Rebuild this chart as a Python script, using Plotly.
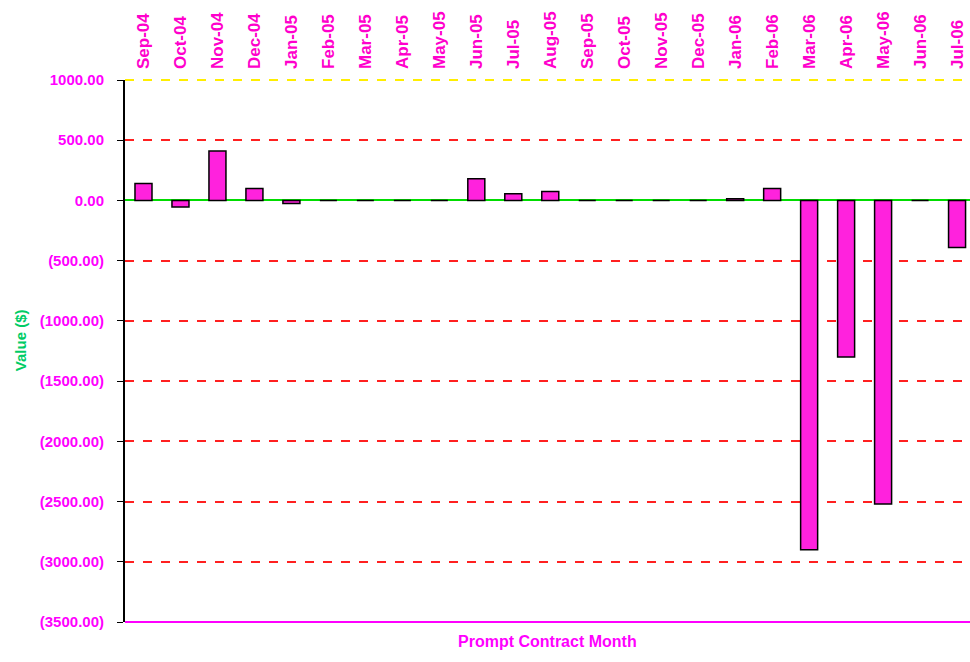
import plotly.graph_objects as go

months = ["Sep-04", "Oct-04", "Nov-04", "Dec-04", "Jan-05", "Feb-05", "Mar-05", "Apr-05",
          "May-05", "Jun-05", "Jul-05", "Aug-05", "Sep-05", "Oct-05", "Nov-05", "Dec-05",
          "Jan-06", "Feb-06", "Mar-06", "Apr-06", "May-06", "Jun-06", "Jul-06"]
values = [140, -55, 410, 100, -25, 0, 0, 0,
          0, 180, 55, 75, 0, 0, 0, 0,
          15, 100, -2900, -1300, -2520, 0, -390]
tick_vals = [1000, 500, 0, -500, -1000, -1500, -2000, -2500, -3000, -3500]
tick_text = ["1000.00", "500.00", "0.00", "(500.00)", "(1000.00)", "(1500.00)",
             "(2000.00)", "(2500.00)", "(3000.00)", "(3500.00)"]

fig = go.Figure()
fig.add_trace(go.Bar(
    x=months, y=values,
    marker=dict(color="#ff22dd", line=dict(color="#000000", width=1.5)),
    width=0.46,
))

fig.update_layout(
    width=970, height=662,
    margin=dict(l=125, r=0, t=80, b=40),
    plot_bgcolor="white", paper_bgcolor="white",
    showlegend=False,
    font=dict(family="Arial, Liberation Sans, sans-serif", size=12, color="#ff00ff"),
    xaxis=dict(
        side="top", type="category", range=[-0.5, 22.35],
        tickangle=-90, tickfont=dict(size=17, color="#ff00cc", weight="bold"),
        showgrid=False, showline=False, ticks="", ticklabelstandoff=10,
    ),
    yaxis=dict(
        range=[-3500, 1000], tickmode="array", tickvals=tick_vals, ticktext=tick_text,
        tickfont=dict(size=15, color="#ff00ff", weight="bold"),
        showgrid=True, gridcolor="#ff2020", griddash="dash", gridwidth=1.5,
        zeroline=True, zerolinecolor="#00dd00", zerolinewidth=2,
        showline=True, linecolor="#000000", linewidth=2,
        ticks="outside", ticklen=6, tickcolor="#000000", ticklabelstandoff=10,
    ),
    shapes=[
        dict(type="line", xref="paper", yref="paper", x0=0, x1=1, y0=0, y1=0,
             line=dict(color="#ff00ff", width=2)),
        dict(type="line", xref="paper", yref="paper", x0=0, x1=1, y0=1, y1=1,
             line=dict(color="#ffee00", width=2, dash="dash")),
    ],
    annotations=[
        dict(text="<b>Prompt Contract Month</b>", xref="paper", yref="paper",
             x=0.5, y=0, yshift=-30, showarrow=False,
             font=dict(size=16, color="#ff00ff")),
        dict(text="<b>Value ($)</b>", xref="paper", yref="paper", x=0, xshift=-105,
             xanchor="center", y=0.52, textangle=-90, showarrow=False,
             font=dict(size=15, color="#00cc66")),
    ],
)

fig.write_html("out.html",
               config={"displayModeBar": False},
               post_script="document.body.style.margin='0';document.body.style.overflow='hidden';")
